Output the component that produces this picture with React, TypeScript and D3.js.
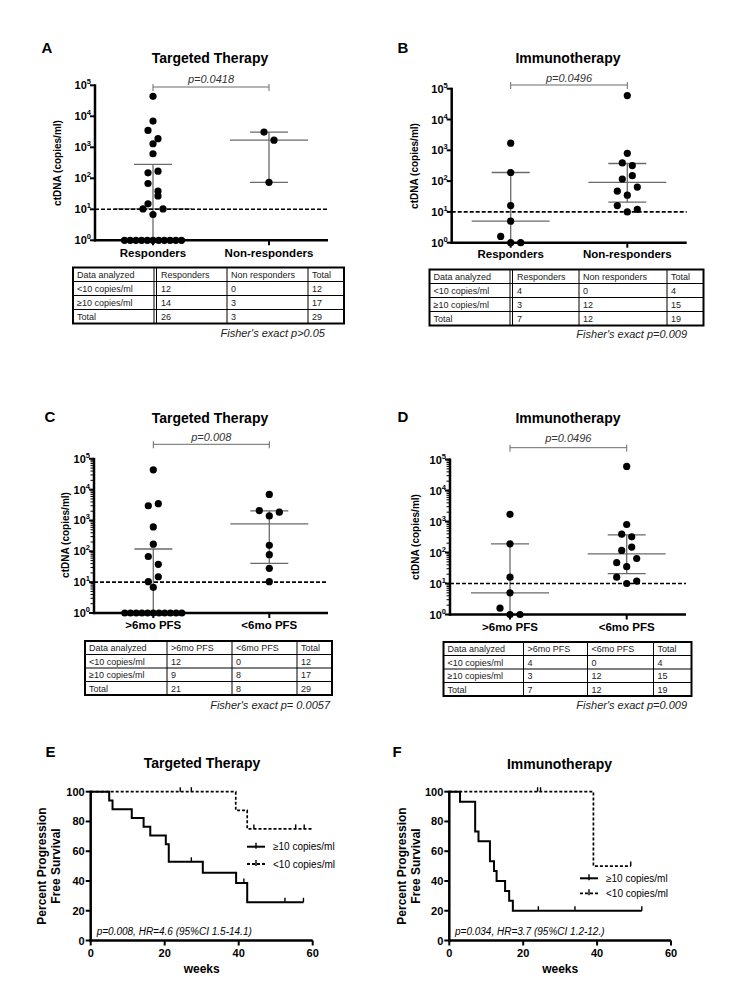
import React from 'react';
import * as d3 from 'd3';

const FONT = '"Liberation Sans", Arial, Helvetica, sans-serif';

// ---------- Data: panel A ----------
const aCategories = ['Responders', 'Non-responders'];
const aResponders = [44000, 7000, 3500, 1900, 1300, 620, 150, 170, 68, 39, 15, 27, 10.3, 6.8, 10.3, 1, 1, 1, 1, 1, 1, 1, 1, 1, 1, 1];
const aNonResponders = [3100, 1700, 74];
const aPValue = 'p=0.0418';
const aTableHeader = ['Data analyzed', 'Responders', 'Non responders', 'Total'];
const aTableRows = [
  ['<10 copies/ml', '12', '0', '12'],
  ['\u226510 copies/ml', '14', '3', '17'],
  ['Total', '26', '3', '29'],
];
const aFisher = "Fisher's exact p>0.05";

// ---------- Data: panel B ----------
const bCategories = ['Responders', 'Non-responders'];
const bResponders = [1700, 190, 16, 5, 1.6, 1, 1];
const bNonResponders = [60000, 800, 390, 320, 117, 150, 47, 35, 64, 16, 10, 12];
const bPValue = 'p=0.0496';
const bTableHeader = ['Data analyzed', 'Responders', 'Non responders', 'Total'];
const bTableRows = [
  ['<10 copies/ml', '4', '0', '4'],
  ['\u226510 copies/ml', '3', '12', '15'],
  ['Total', '7', '12', '19'],
];
const bFisher = "Fisher's exact p=0.009";

// ---------- Data: panel C ----------
const cCategories = ['>6mo PFS', '<6mo PFS'];
const cLongPFS = [44000, 3000, 3500, 620, 170, 68, 38, 10.4, 15, 6.8, 1, 1, 1, 1, 1, 1, 1, 1, 1, 1, 1];
const cShortPFS = [7000, 2100, 1400, 1860, 157, 78, 28, 10.4];
const cPValue = 'p=0.008';
const cTableHeader = ['Data analyzed', '>6mo PFS', '<6mo PFS', 'Total'];
const cTableRows = [
  ['<10 copies/ml', '12', '0', '12'],
  ['\u226510 copies/ml', '9', '8', '17'],
  ['Total', '21', '8', '29'],
];
const cFisher = "Fisher's exact p= 0.0057";

// ---------- Data: panel D ----------
const dCategories = ['>6mo PFS', '<6mo PFS'];
const dLongPFS = [1700, 190, 16, 5, 1.6, 1, 1];
const dShortPFS = [60000, 800, 390, 320, 117, 150, 47, 35, 64, 16, 10, 12];
const dPValue = 'p=0.0496';
const dTableHeader = ['Data analyzed', '>6mo PFS', '<6mo PFS', 'Total'];
const dTableRows = [
  ['<10 copies/ml', '4', '0', '4'],
  ['\u226510 copies/ml', '3', '12', '15'],
  ['Total', '7', '12', '19'],
];
const dFisher = "Fisher's exact p=0.009";

const logTicks = [1, 10, 100, 1000, 10000, 100000];
const threshold = 10;

// ---------- Data: panel E (Kaplan-Meier) ----------
const eHighTimes = [0, 5.0, 5.9, 11.1, 14.3, 16.1, 20.3, 21.1, 30.3, 39.3, 42.3, 57.5];
const eHighSurv = [100, 94.1, 88.2, 82.4, 76.5, 70.6, 64.7, 52.9, 45.5, 38.6, 25.7, 25.7];
const eHighCensor = [27.2, 41.4, 52.5, 57.5];
const eLowTimes = [0, 39.2, 42.3, 60];
const eLowSurv = [100, 87.5, 75, 75];
const eLowCensor = [24.2, 27.2, 44.1, 55.4, 57.7];
const eNote = 'p=0.008, HR=4.6 (95%CI 1.5-14.1)';

// ---------- Data: panel F (Kaplan-Meier) ----------
const fHighTimes = [0, 2.9, 7.0, 7.9, 11.0, 12.1, 12.8, 15.1, 16.2, 17.2, 52.1];
const fHighSurv = [100, 93.3, 73.3, 66.7, 53.3, 46.7, 40, 33.3, 26.7, 20, 20];
const fHighCensor = [24.1, 34.0, 52.1];
const fLowTimes = [0, 39.0, 49.1];
const fLowSurv = [100, 50, 50];
const fLowCensor = [23.9, 24.7, 49.1];
const fNote = 'p=0.034, HR=3.7 (95%CI 1.2-12.)';

const kmXTicks = [0, 20, 40, 60];
const kmYTicks = [0, 20, 40, 60, 80, 100];
const legendHigh = '\u226510 copies/ml';
const legendLow = '<10 copies/ml';

// ---------- helpers ----------
function prismQuantile(values: number[], p: number) {
  const s = [...values].sort((a, b) => a - b);
  const n = s.length;
  const pos = p * (n + 1);
  if (pos <= 1) return s[0];
  if (pos >= n) return s[n - 1];
  const lo = Math.floor(pos);
  return s[lo - 1] + (pos - lo) * (s[lo] - s[lo - 1]);
}

function swarm(values: number[], y: (v: number) => number, cx: number) {
  const items = values.map((v, i) => ({ v, i, y: y(v), x: cx }));
  const sorted = [...items].sort((a, b) => a.y - b.y || a.i - b.i);
  const rows: (typeof items)[] = [];
  let start = -Infinity;
  for (const p of sorted) {
    if (p.y - start > 9) {
      rows.push([]);
      start = p.y;
    }
    rows[rows.length - 1].push(p);
  }
  rows.forEach((row) => {
    row.sort((a, b) => a.i - b.i);
    const n = row.length;
    const s = n > 1 ? Math.min(10, 57 / (n - 1)) : 0;
    row.forEach((p, k) => {
      p.x = cx + (k - (n - 1) / 2) * s;
    });
  });
  return items;
}

type ScatterCfg = {
  letter: string; letterX: number; letterY: number;
  title: string; titleX: number; titleY: number;
  axisX: number; xEnd: number; yTop: number; yBottom: number;
  c0: number; c1: number; catLabelY: number;
  yLabelX: number; yLabelY: number;
  bracketY: number; pTextY: number; minor: boolean;
};

function ScatterPanel({ cfg, cats, groups, pText }: { cfg: ScatterCfg; cats: string[]; groups: number[][]; pText: string }) {
  const y = d3.scaleLog().domain([1, 1e5]).range([cfg.yBottom, cfg.yTop]);
  const x = d3.scalePoint<string>().domain(cats).range([cfg.c0, cfg.c1]);
  const minorVals: number[] = [];
  for (let d = 0; d < 5; d++) for (let k = 2; k <= 9; k++) minorVals.push(k * Math.pow(10, d));
  const gray = '#6a6a6a';
  return (
    <g>
      <text x={cfg.letterX} y={cfg.letterY} fontSize={15} fontWeight="bold" textAnchor="middle">{cfg.letter}</text>
      <text x={cfg.titleX} y={cfg.titleY} fontSize={14} fontWeight="bold" textAnchor="middle">{cfg.title}</text>
      {/* significance bracket */}
      <g stroke={gray} strokeWidth={1}>
        <line x1={x(cats[0])} x2={x(cats[1])} y1={cfg.bracketY} y2={cfg.bracketY} />
        <line x1={x(cats[0])} x2={x(cats[0])} y1={cfg.bracketY - 3} y2={cfg.bracketY + 4} />
        <line x1={x(cats[1])} x2={x(cats[1])} y1={cfg.bracketY - 3} y2={cfg.bracketY + 4} />
      </g>
      <text x={((x(cats[0]) as number) + (x(cats[1]) as number)) / 2} y={cfg.pTextY} fontSize={11} fontStyle="italic" textAnchor="middle" fill="#333">{pText}</text>
      {/* y label */}
      <text transform={`translate(${cfg.yLabelX},${cfg.yLabelY}) rotate(-90)`} fontSize={10} fontWeight="bold" textAnchor="middle" dominantBaseline="central">ctDNA (copies/ml)</text>
      {/* y ticks */}
      {cfg.minor && minorVals.map((v) => (
        <line key={'m' + v} x1={cfg.axisX - 3.5} x2={cfg.axisX} y1={y(v)} y2={y(v)} stroke="#000" strokeWidth={1} />
      ))}
      {logTicks.map((v) => (
        <g key={v}>
          <line x1={cfg.axisX - 5} x2={cfg.axisX} y1={y(v)} y2={y(v)} stroke="#000" strokeWidth={2} />
          <text x={cfg.axisX - 4} y={y(v) + 4} fontSize={11} fontWeight="bold" textAnchor="end">
            <tspan>10</tspan>
            <tspan dy={-5} fontSize={7.5}>{String(Math.round(Math.log10(v)))}</tspan>
          </text>
        </g>
      ))}
      {/* median + IQR */}
      {groups.map((vals, gi) => {
        const cx = x(cats[gi]) as number;
        const q1 = prismQuantile(vals, 0.25);
        const med = prismQuantile(vals, 0.5);
        const q3 = prismQuantile(vals, 0.75);
        return (
          <g key={'e' + gi} stroke={gray} strokeWidth={1.3}>
            <line x1={cx} x2={cx} y1={y(q1)} y2={y(q3)} />
            <line x1={cx - 39} x2={cx + 39} y1={y(med)} y2={y(med)} />
            <line x1={cx - 19} x2={cx + 19} y1={y(q1)} y2={y(q1)} />
            <line x1={cx - 19} x2={cx + 19} y1={y(q3)} y2={y(q3)} />
          </g>
        );
      })}
      {/* points */}
      {groups.map((vals, gi) =>
        swarm(vals, y, x(cats[gi]) as number).map((p) => (
          <circle key={gi + '-' + p.i} cx={p.x} cy={p.y} r={3.6} fill="#000" />
        ))
      )}
      {/* threshold */}
      <line x1={cfg.axisX} x2={cfg.xEnd} y1={y(threshold)} y2={y(threshold)} stroke="#000" strokeWidth={1.6} strokeDasharray="4,2" />
      {/* axes */}
      <line x1={cfg.axisX} x2={cfg.axisX} y1={cfg.yTop - 1} y2={cfg.yBottom + 1.2} stroke="#000" strokeWidth={2.5} />
      <line x1={cfg.axisX - 1.2} x2={cfg.xEnd} y1={cfg.yBottom} y2={cfg.yBottom} stroke="#000" strokeWidth={2.5} />
      {cats.map((c) => (
        <g key={c}>
          <line x1={x(c)} x2={x(c)} y1={cfg.yBottom} y2={cfg.yBottom + 5} stroke="#000" strokeWidth={2} />
          <text x={x(c)} y={cfg.catLabelY} fontSize={11.5} fontWeight="bold" textAnchor="middle">{c}</text>
        </g>
      ))}
    </g>
  );
}

function DataTable({ xs, top, rowH, header, rows, double, fisher, fisherX, fisherY }: {
  xs: number[]; top: number; rowH: number; header: string[]; rows: string[][]; double: boolean;
  fisher: string; fisherX: number; fisherY: number;
}) {
  const all = [header, ...rows];
  const bottom = top + rowH * all.length;
  return (
    <g>
      {xs.slice(1, 4).map((xv, i) => (
        <line key={'v' + i} x1={xv} x2={xv} y1={top} y2={bottom} stroke="#000" strokeWidth={1} />
      ))}
      {double && <line x1={xs[1] + 2.5} x2={xs[1] + 2.5} y1={top} y2={bottom} stroke="#000" strokeWidth={1} />}
      {all.slice(1).map((_, r) => (
        <line key={'h' + r} x1={xs[0]} x2={xs[4]} y1={top + rowH * (r + 1)} y2={top + rowH * (r + 1)} stroke="#000" strokeWidth={1} />
      ))}
      <rect x={xs[0]} y={top} width={xs[4] - xs[0]} height={bottom - top} fill="none" stroke="#000" strokeWidth={2} />
      {all.map((row, r) =>
        row.map((cell, c) => (
          <text key={r + '-' + c} x={xs[c] + (double && c === 1 ? 7 : 4)} y={top + rowH * r + rowH / 2 + 3.3} fontSize={9} fill="#222">{cell}</text>
        ))
      )}
      <text x={fisherX} y={fisherY} fontSize={11} fontStyle="italic" textAnchor="end" fill="#222">{fisher}</text>
    </g>
  );
}

type KMCfg = {
  letter: string; letterX: number; letterY: number;
  title: string; titleX: number; titleY: number;
  x0: number; x1: number; y0: number; y100: number;
  labelX1: number; labelX2: number; labelY: number;
  noteX: number; noteY: number;
  legX0: number; legX1: number; legY1: number; legY2: number; legTextX: number;
};

function KMPanel({ cfg, hi, lo, note }: {
  cfg: KMCfg;
  hi: { t: number[]; s: number[]; c: number[] };
  lo: { t: number[]; s: number[]; c: number[] };
  note: string;
}) {
  const x = d3.scaleLinear().domain([0, 60]).range([cfg.x0, cfg.x1]);
  const y = d3.scaleLinear().domain([0, 100]).range([cfg.y0, cfg.y100]);
  const line = d3.line<[number, number]>().x((d) => x(d[0])).y((d) => y(d[1])).curve(d3.curveStepAfter);
  const survAt = (ts: number[], ss: number[], t: number) => {
    let v = ss[0];
    for (let i = 0; i < ts.length; i++) if (ts[i] <= t) v = ss[i];
    return v;
  };
  const curve = (d: { t: number[]; s: number[]; c: number[] }, dashed: boolean, key: string) => (
    <g key={key}>
      <path d={line(d.t.map((t, i) => [t, d.s[i]] as [number, number])) || ''} fill="none" stroke="#000" strokeWidth={dashed ? 1.7 : 2} strokeDasharray={dashed ? '3,2' : undefined} />
      {d.c.map((t, i) => (
        <line key={i} x1={x(t)} x2={x(t)} y1={y(survAt(d.t, d.s, t)) - 4.5} y2={y(survAt(d.t, d.s, t))} stroke="#000" strokeWidth={1.4} />
      ))}
    </g>
  );
  const midLeg = (cfg.legX0 + cfg.legX1) / 2;
  return (
    <g>
      <text x={cfg.letterX} y={cfg.letterY} fontSize={15} fontWeight="bold" textAnchor="middle">{cfg.letter}</text>
      <text x={cfg.titleX} y={cfg.titleY} fontSize={14} fontWeight="bold" textAnchor="middle">{cfg.title}</text>
      <text transform={`translate(${cfg.labelX1},${cfg.labelY}) rotate(-90)`} fontSize={12} fontWeight="bold" textAnchor="middle" dominantBaseline="central">Percent Progression</text>
      <text transform={`translate(${cfg.labelX2},${cfg.labelY}) rotate(-90)`} fontSize={12} fontWeight="bold" textAnchor="middle" dominantBaseline="central">Free Survival</text>
      {curve(lo, true, 'lo')}
      {curve(hi, false, 'hi')}
      {/* axes */}
      <line x1={cfg.x0} x2={cfg.x0} y1={cfg.y100 - 1} y2={cfg.y0 + 1.2} stroke="#000" strokeWidth={2.5} />
      <line x1={cfg.x0 - 1.2} x2={cfg.x1} y1={cfg.y0} y2={cfg.y0} stroke="#000" strokeWidth={2.5} />
      {kmYTicks.map((v) => (
        <g key={'y' + v}>
          <line x1={cfg.x0 - 5} x2={cfg.x0} y1={y(v)} y2={y(v)} stroke="#000" strokeWidth={2} />
          <text x={cfg.x0 - 6} y={y(v) + 4} fontSize={11} fontWeight="bold" textAnchor="end">{v}</text>
        </g>
      ))}
      {kmXTicks.map((v) => (
        <g key={'x' + v}>
          <line x1={x(v)} x2={x(v)} y1={cfg.y0} y2={cfg.y0 + 5} stroke="#000" strokeWidth={2} />
          <text x={x(v)} y={cfg.y0 + 16.5} fontSize={11} fontWeight="bold" textAnchor="middle">{v}</text>
        </g>
      ))}
      <text x={(cfg.x0 + cfg.x1) / 2} y={cfg.y0 + 32} fontSize={12} fontWeight="bold" textAnchor="middle">weeks</text>
      <text x={cfg.noteX} y={cfg.noteY} fontSize={10} fontStyle="italic">{note}</text>
      {/* legend */}
      <line x1={cfg.legX0} x2={cfg.legX1} y1={cfg.legY1} y2={cfg.legY1} stroke="#000" strokeWidth={2} />
      <line x1={midLeg} x2={midLeg} y1={cfg.legY1 - 4} y2={cfg.legY1 + 2} stroke="#000" strokeWidth={1.4} />
      <text x={cfg.legTextX} y={cfg.legY1 + 3.5} fontSize={10}>{legendHigh}</text>
      <line x1={cfg.legX0} x2={cfg.legX1} y1={cfg.legY2} y2={cfg.legY2} stroke="#000" strokeWidth={1.8} strokeDasharray="3,2" />
      <line x1={midLeg} x2={midLeg} y1={cfg.legY2 - 4} y2={cfg.legY2 + 2} stroke="#000" strokeWidth={1.4} />
      <text x={cfg.legTextX} y={cfg.legY2 + 3.5} fontSize={10}>{legendLow}</text>
    </g>
  );
}

const cfgA: ScatterCfg = {
  letter: 'A', letterX: 47, letterY: 53, title: 'Targeted Therapy', titleX: 210, titleY: 63,
  axisX: 95, xEnd: 328, yTop: 85.3, yBottom: 240.3, c0: 153, c1: 269, catLabelY: 257,
  yLabelX: 57, yLabelY: 163, bracketY: 87, pTextY: 83, minor: false,
};
const cfgB: ScatterCfg = {
  letter: 'B', letterX: 403, letterY: 53, title: 'Immunotherapy', titleX: 568, titleY: 63,
  axisX: 451.7, xEnd: 686.7, yTop: 88.7, yBottom: 242.7, c0: 510.7, c1: 627.3, catLabelY: 258,
  yLabelX: 414, yLabelY: 166, bracketY: 85, pTextY: 82, minor: false,
};
const cfgC: ScatterCfg = {
  letter: 'C', letterX: 50, letterY: 422, title: 'Targeted Therapy', titleX: 210, titleY: 423,
  axisX: 94, xEnd: 328, yTop: 458.8, yBottom: 613, c0: 153.3, c1: 269.3, catLabelY: 629,
  yLabelX: 65, yLabelY: 535, bracketY: 444.3, pTextY: 441, minor: true,
};
const cfgD: ScatterCfg = {
  letter: 'D', letterX: 403, letterY: 422, title: 'Immunotherapy', titleX: 568, titleY: 423,
  axisX: 450, xEnd: 686, yTop: 459.5, yBottom: 614.5, c0: 510, c1: 626.7, catLabelY: 631,
  yLabelX: 415, yLabelY: 537, bracketY: 447.7, pTextY: 442, minor: true,
};
const cfgE: KMCfg = {
  letter: 'E', letterX: 50.5, letterY: 757, title: 'Targeted Therapy', titleX: 202, titleY: 768,
  x0: 90.7, x1: 312.7, y0: 940.5, y100: 791.7, labelX1: 41.7, labelX2: 56, labelY: 866,
  noteX: 96.7, noteY: 935, legX0: 247, legX1: 265, legY1: 846.7, legY2: 864, legTextX: 273,
};
const cfgF: KMCfg = {
  letter: 'F', letterX: 397, letterY: 757, title: 'Immunotherapy', titleX: 559.5, titleY: 769,
  x0: 449.3, x1: 671, y0: 940.5, y100: 791.7, labelX1: 401.7, labelX2: 416, labelY: 866,
  noteX: 455, noteY: 935, legX0: 580, legX1: 598, legY1: 878.3, legY2: 893.3, legTextX: 606,
};

export default function App() {
  return (
    <svg width={750} height={1000} style={{ position: 'absolute', left: 0, top: 0, background: '#fff' }} fontFamily={FONT}>
      <rect width={750} height={1000} fill="#fff" />
      <ScatterPanel cfg={cfgA} cats={aCategories} groups={[aResponders, aNonResponders]} pText={aPValue} />
      <DataTable xs={[73, 154, 227, 308, 344]} top={267.5} rowH={14} header={aTableHeader} rows={aTableRows} double fisher={aFisher} fisherX={325} fisherY={337} />
      <ScatterPanel cfg={cfgB} cats={bCategories} groups={[bResponders, bNonResponders]} pText={bPValue} />
      <DataTable xs={[429.5, 510, 579, 667, 703.5]} top={269.5} rowH={14} header={bTableHeader} rows={bTableRows} double fisher={bFisher} fisherX={687} fisherY={338} />
      <ScatterPanel cfg={cfgC} cats={cCategories} groups={[cLongPFS, cShortPFS]} pText={cPValue} />
      <DataTable xs={[85, 167, 232, 297, 332]} top={641} rowH={13.5} header={cTableHeader} rows={cTableRows} double={false} fisher={cFisher} fisherX={330} fisherY={709} />
      <ScatterPanel cfg={cfgD} cats={dCategories} groups={[dLongPFS, dShortPFS]} pText={dPValue} />
      <DataTable xs={[443.5, 523.5, 587.5, 653.5, 691.5]} top={642} rowH={13.5} header={dTableHeader} rows={dTableRows} double={false} fisher={dFisher} fisherX={687} fisherY={709} />
      <KMPanel cfg={cfgE} hi={{ t: eHighTimes, s: eHighSurv, c: eHighCensor }} lo={{ t: eLowTimes, s: eLowSurv, c: eLowCensor }} note={eNote} />
      <KMPanel cfg={cfgF} hi={{ t: fHighTimes, s: fHighSurv, c: fHighCensor }} lo={{ t: fLowTimes, s: fLowSurv, c: fLowCensor }} note={fNote} />
    </svg>
  );
}
